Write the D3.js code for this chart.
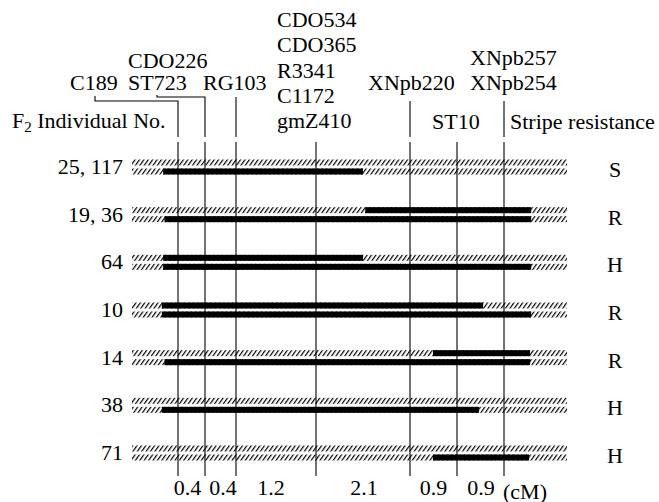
<!DOCTYPE html>
<html>
<head>
<meta charset="utf-8">
<script src="https://cdn.jsdelivr.net/npm/d3@7/dist/d3.min.js"></script>
<style>
  html, body { margin: 0; padding: 0; background: #fff; }
  svg { display: block; }
  text { font-family: "Liberation Serif", "Times New Roman", serif; font-size: 22px; fill: #000; }
</style>
</head>
<body>
<svg id="chart" width="659" height="502"></svg>
<script>
// ---------------- DATA ----------------
const markers = ["C189", "ST723", "RG103", "gmZ410", "XNpb220", "ST10", "XNpb254"];
const markerGroups = [
  ["C189"],
  ["CDO226", "ST723"],
  ["RG103"],
  ["CDO534", "CDO365", "R3341", "C1172", "gmZ410"],
  ["XNpb220"],
  ["ST10"],
  ["XNpb257", "XNpb254"]
];
const distances = [0.4, 0.4, 1.2, 2.1, 0.9, 0.9]; // cM between adjacent markers
const individuals = ["25, 117", "19, 36", "64", "10", "14", "38", "71"];
const resistance = ["S", "R", "H", "R", "R", "H", "H"];
// black (donor) segments on each of the two strands, in cM along the map
const topStrand = [
  [],
  [[3.1, 6.42]],
  [[-0.22, 3.05]],
  [[-0.24, 5.5]],
  [[4.54, 6.40]],
  [],
  []
];
const bottomStrand = [
  [[-0.22, 3.05]],
  [[-0.2, 6.42]],
  [[-0.22, 6.42]],
  [[-0.24, 6.42]],
  [[-0.2, 6.40]],
  [[-0.24, 5.42]],
  [[4.54, 6.38]]
];

// ---------------- LAYOUT ----------------
const svg = d3.select("#chart");
const cum = [0];
distances.forEach(d => cum.push(+(cum[cum.length - 1] + d).toFixed(2)));
// the map is drawn with stretched (non-proportional) intervals, as in the figure
const x = d3.scaleLinear().domain(cum).range([178, 205, 236, 316, 410, 457, 504]);
const y = d3.scalePoint().domain(individuals).range([167, 453]);
const chromLeft = 132, chromRight = 567, strandH = 6, strandOff = 4.5;

const defs = svg.append("defs");
const pat = defs.append("pattern")
  .attr("id", "hatch").attr("patternUnits", "userSpaceOnUse")
  .attr("width", 3.6).attr("height", 10)
  .attr("patternTransform", "rotate(35)");
pat.append("rect").attr("x", 0).attr("y", 0).attr("width", 1.2).attr("height", 10).attr("fill", "#000");

// marker label layout: x (start), last-line baseline, line step, line top, optional leader
const labelLayout = [
  {x: 70, y: 90, step: 22, top: 101, leader: [[95, 96], [95, 101]]},
  {x: 128, y: 90, step: 22, top: 97, leader: [[157, 95], [157, 97]]},
  {x: 203, y: 90, step: 22, top: 97},
  {x: 277, y: 128, step: 25.2, top: 142},
  {x: 368, y: 90, step: 25, top: 101},
  {x: 432, y: 129, step: 25, top: 142},
  {x: 470, y: 90, step: 25, top: 101}
];
const lineBottom = 476, gapTop = 137, gapBottom = 142;
const distLabelShift = [-4, 2.5, -5, 1, 0, 0.5];

// marker labels (stacked upward from the last line)
markerGroups.forEach((g, i) => {
  const L = labelLayout[i];
  const n = g.length;
  g.forEach((name, j) => {
    svg.append("text").attr("x", L.x).attr("y", L.y - (n - 1 - j) * L.step).text(name);
  });
});

// marker lines (with leaders and small gap)
const lineG = svg.append("g").attr("stroke", "#000").attr("stroke-width", 1.1).attr("fill", "none");
markers.forEach((m, i) => {
  const L = labelLayout[i];
  const xm = x(cum[i]);
  if (L.leader) {
    const p = d3.path();
    p.moveTo(L.leader[0][0], L.leader[0][1]);
    p.lineTo(L.leader[1][0], L.leader[1][1]);
    p.lineTo(xm, L.leader[1][1]);
    p.lineTo(xm, gapTop);
    lineG.append("path").attr("d", p.toString());
  } else if (L.top < gapTop) {
    lineG.append("line").attr("x1", xm).attr("x2", xm).attr("y1", L.top).attr("y2", gapTop);
  }
  lineG.append("line").attr("x1", xm).attr("x2", xm).attr("y1", gapBottom).attr("y2", lineBottom);
});

// strands
const strandG = svg.append("g");
individuals.forEach((ind, r) => {
  const cy = y(ind);
  [[topStrand[r], cy - strandOff], [bottomStrand[r], cy + strandOff]].forEach(([segs, sy]) => {
    strandG.append("rect")
      .attr("x", chromLeft).attr("y", sy - strandH / 2)
      .attr("width", chromRight - chromLeft).attr("height", strandH)
      .attr("fill", "url(#hatch)");
    segs.forEach(s => {
      strandG.append("rect")
        .attr("x", x(s[0])).attr("y", sy - strandH / 2)
        .attr("width", x(s[1]) - x(s[0])).attr("height", strandH)
        .attr("fill", "#000");
    });
  });
  svg.append("text").attr("x", 123).attr("y", cy + 7).attr("text-anchor", "end").text(ind);
  svg.append("text").attr("x", 615).attr("y", cy + 10).attr("text-anchor", "middle").text(resistance[r]);
});

// headers
const hdr = svg.append("text").attr("x", 12).attr("y", 128);
hdr.append("tspan").text("F");
hdr.append("tspan").attr("dy", 4).style("font-size", "15px").text("2");
hdr.append("tspan").attr("dy", -4).text(" Individual No.");
svg.append("text").attr("x", 510).attr("y", 129).text("Stripe resistance");

// distance labels
distances.forEach((d, i) => {
  svg.append("text")
    .attr("x", (x(cum[i]) + x(cum[i + 1])) / 2 + distLabelShift[i]).attr("y", 495)
    .attr("text-anchor", "middle").text(d.toFixed(1));
});
svg.append("text").attr("x", 503).attr("y", 499).text("(cM)");
</script>
</body>
</html>
